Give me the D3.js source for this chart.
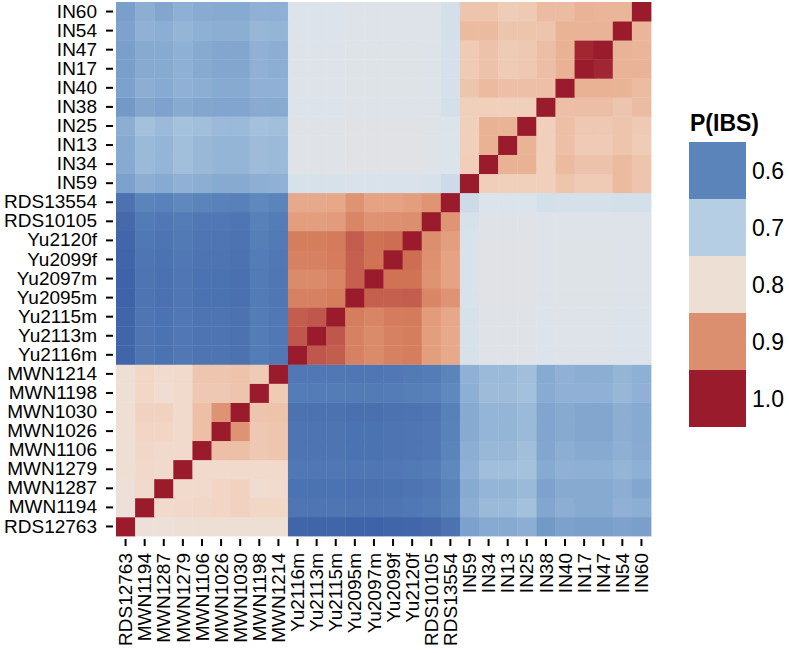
<!DOCTYPE html>
<html>
<head>
<meta charset="utf-8">
<script src="https://cdn.jsdelivr.net/npm/d3@7/dist/d3.min.js"></script>
<style>
  html, body { margin: 0; padding: 0; background: #ffffff; }
  svg { display: block; }
  text { font-family: "Liberation Sans", Arial, Helvetica, sans-serif; fill: #000; }
</style>
</head>
<body>
<svg id="chart" width="789" height="653"></svg>
<script>
// ---- Data ----
// Sample order: left-to-right on x axis, bottom-to-top on y axis
const samples = ["RDS12763","MWN1194","MWN1287","MWN1279","MWN1106","MWN1026","MWN1030","MWN1198","MWN1214",
  "Yu2116m","Yu2113m","Yu2115m","Yu2095m","Yu2097m","Yu2099f","Yu2120f","RDS10105","RDS13554",
  "IN59","IN34","IN13","IN25","IN38","IN40","IN17","IN47","IN54","IN60"];

// Lower-triangle values (row sample vs earlier samples), split into blocks
// MWN group (rows RDS12763..MWN1214), vs earlier members of the group
const mwnWithin = [
  [],
  [0.795],
  [0.795, 0.81],
  [0.80, 0.811, 0.81],
  [0.80, 0.813, 0.81, 0.81],
  [0.80, 0.816, 0.816, 0.81, 0.84],
  [0.80, 0.819, 0.819, 0.81, 0.84, 0.893],
  [0.80, 0.815, 0.803, 0.81, 0.83, 0.83, 0.834],
  [0.80, 0.814, 0.807, 0.81, 0.832, 0.832, 0.836, 0.827]
];
// Yu/RDS rows (Yu2116m..RDS13554) vs MWN group columns (RDS12763..MWN1214)
const yuVsMwn = [
  [0.56, 0.582, 0.578, 0.585, 0.58, 0.58, 0.577, 0.59, 0.585],
  [0.56, 0.582, 0.578, 0.585, 0.58, 0.58, 0.577, 0.59, 0.585],
  [0.56, 0.582, 0.578, 0.585, 0.58, 0.58, 0.577, 0.59, 0.585],
  [0.558, 0.58, 0.576, 0.583, 0.578, 0.578, 0.575, 0.588, 0.583],
  [0.558, 0.58, 0.576, 0.583, 0.578, 0.578, 0.575, 0.588, 0.583],
  [0.56, 0.582, 0.578, 0.585, 0.58, 0.58, 0.577, 0.59, 0.585],
  [0.562, 0.584, 0.58, 0.587, 0.582, 0.582, 0.579, 0.592, 0.587],
  [0.566, 0.588, 0.585, 0.59, 0.585, 0.585, 0.582, 0.595, 0.59],
  [0.577, 0.6, 0.597, 0.605, 0.6, 0.598, 0.595, 0.605, 0.6]
];
// Yu/RDS rows vs earlier Yu/RDS columns
const yuWithin = [
  [],
  [0.945],
  [0.94, 0.945],
  [0.91, 0.91, 0.912],
  [0.903, 0.903, 0.907, 0.938],
  [0.91, 0.91, 0.913, 0.938, 0.92],
  [0.912, 0.912, 0.914, 0.94, 0.92, 0.925],
  [0.88, 0.88, 0.882, 0.906, 0.895, 0.897, 0.9],
  [0.865, 0.865, 0.866, 0.895, 0.873, 0.873, 0.88, 0.892]
];
// IN rows (IN59..IN60) vs MWN group columns
const inVsMwn = [
  [0.638, 0.655, 0.65, 0.66, 0.655, 0.65, 0.65, 0.657, 0.66],
  [0.65, 0.672, 0.665, 0.678, 0.67, 0.665, 0.665, 0.675, 0.672],
  [0.65, 0.672, 0.665, 0.678, 0.67, 0.665, 0.665, 0.675, 0.672],
  [0.655, 0.68, 0.672, 0.683, 0.678, 0.672, 0.672, 0.68, 0.678],
  [0.627, 0.645, 0.64, 0.65, 0.645, 0.643, 0.643, 0.652, 0.65],
  [0.638, 0.655, 0.65, 0.66, 0.655, 0.65, 0.65, 0.66, 0.66],
  [0.635, 0.65, 0.65, 0.658, 0.65, 0.645, 0.645, 0.66, 0.655],
  [0.635, 0.65, 0.65, 0.658, 0.65, 0.645, 0.645, 0.66, 0.655],
  [0.64, 0.66, 0.655, 0.665, 0.658, 0.655, 0.655, 0.668, 0.665],
  [0.635, 0.655, 0.645, 0.658, 0.652, 0.65, 0.65, 0.66, 0.658]
];
// IN rows vs Yu/RDS columns
const inVsYu = [
  [0.745, 0.745, 0.745, 0.748, 0.748, 0.748, 0.748, 0.745, 0.732],
  [0.762, 0.762, 0.762, 0.765, 0.765, 0.765, 0.765, 0.762, 0.75],
  [0.762, 0.762, 0.762, 0.765, 0.765, 0.765, 0.765, 0.762, 0.75],
  [0.762, 0.762, 0.762, 0.765, 0.765, 0.765, 0.765, 0.762, 0.75],
  [0.752, 0.752, 0.752, 0.757, 0.757, 0.757, 0.757, 0.755, 0.74],
  [0.755, 0.755, 0.755, 0.76, 0.76, 0.76, 0.76, 0.757, 0.743],
  [0.755, 0.755, 0.755, 0.76, 0.76, 0.76, 0.76, 0.757, 0.743],
  [0.755, 0.755, 0.755, 0.76, 0.76, 0.76, 0.76, 0.757, 0.743],
  [0.752, 0.752, 0.752, 0.757, 0.757, 0.757, 0.757, 0.755, 0.74],
  [0.752, 0.752, 0.752, 0.757, 0.757, 0.757, 0.757, 0.755, 0.74]
];
// IN rows vs earlier IN columns
const inWithin = [
  [],
  [0.824],
  [0.823, 0.855],
  [0.823, 0.855, 0.854],
  [0.823, 0.823, 0.823, 0.823],
  [0.835, 0.846, 0.84, 0.84, 0.84],
  [0.828, 0.837, 0.828, 0.83, 0.841, 0.855],
  [0.828, 0.837, 0.828, 0.83, 0.841, 0.855, 0.99],
  [0.845, 0.845, 0.835, 0.835, 0.833, 0.854, 0.853, 0.853],
  [0.834, 0.835, 0.826, 0.829, 0.843, 0.843, 0.853, 0.851, 0.85]
];

// Legend
const legendTitle = "P(IBS)";
const legendValues = [0.6, 0.7, 0.8, 0.9, 1.0];

// Colour stops (value -> colour)
const colorStops = [0.55, 0.60, 0.65, 0.70, 0.75, 0.775, 0.80, 0.815, 0.83, 0.85, 0.87, 0.90, 0.92, 0.95, 1.00];
const colorRange = ["#3a5da4", "#5b84bb", "#87aad1", "#b5cee3", "#dbe3eb", "#e3e2e3", "#eedfd5", "#f2d6c6",
  "#eec8b2", "#eab69a", "#e6a586", "#dc8f6e", "#d07254", "#bd524a", "#9a1b2b"];

// ---- Build symmetric matrix ----
const n = samples.length;
const M = Array.from({length: n}, () => new Array(n).fill(null));
function setRow(i, j0, vals) { vals.forEach((v, k) => { M[i][j0 + k] = v; M[j0 + k][i] = v; }); }
mwnWithin.forEach((r, k) => setRow(k, 0, r));
yuVsMwn.forEach((r, k) => setRow(9 + k, 0, r));
yuWithin.forEach((r, k) => setRow(9 + k, 9, r));
inVsMwn.forEach((r, k) => setRow(18 + k, 0, r));
inVsYu.forEach((r, k) => setRow(18 + k, 9, r));
inWithin.forEach((r, k) => setRow(18 + k, 18, r));
for (let i = 0; i < n; i++) M[i][i] = 1.0;

const cells = [];
for (let i = 0; i < n; i++) for (let j = 0; j < n; j++) cells.push({row: samples[i], col: samples[j], v: M[i][j]});

// ---- Drawing ----
const svg = d3.select("#chart");
const color = d3.scaleLinear().domain(colorStops).range(colorRange).clamp(true);

const x = d3.scaleBand().domain(samples).range([116, 651]).padding(0);
const y = d3.scaleBand().domain(samples).range([536, 2]).padding(0);

svg.append("g")
  .selectAll("rect")
  .data(cells)
  .join("rect")
  .attr("x", d => x(d.col))
  .attr("y", d => y(d.row))
  .attr("width", x.bandwidth() + 0.4)
  .attr("height", y.bandwidth() + 0.4)
  .attr("fill", d => color(d.v));

// Y axis
const yAxis = svg.append("g")
  .attr("transform", "translate(113,0)")
  .call(d3.axisLeft(y).tickSize(7).tickPadding(9));
yAxis.select(".domain").remove();
yAxis.selectAll(".tick line").attr("stroke", "#000").attr("stroke-width", 2);
yAxis.selectAll(".tick text")
  .style("font-family", '"Liberation Sans", Arial, sans-serif')
  .style("font-size", "19px")
  .attr("fill", "#000");

// X axis
const xAxis = svg.append("g")
  .attr("transform", "translate(0,539)")
  .call(d3.axisBottom(x).tickSize(7).tickPadding(7));
xAxis.select(".domain").remove();
xAxis.selectAll(".tick line").attr("stroke", "#000").attr("stroke-width", 2);
xAxis.selectAll(".tick text")
  .style("font-family", '"Liberation Sans", Arial, sans-serif')
  .style("font-size", "19px")
  .attr("fill", "#000")
  .attr("text-anchor", "end")
  .attr("transform", "rotate(-90)")
  .attr("x", -14)
  .attr("y", 0)
  .attr("dy", "0.35em");

// Legend
const lg = svg.append("g");
lg.append("text")
  .attr("x", 690)
  .attr("y", 131)
  .style("font-size", "23px")
  .style("font-weight", "bold")
  .text(legendTitle);

const ly = d3.scaleBand().domain(legendValues).range([142, 427]);
lg.selectAll("rect")
  .data(legendValues)
  .join("rect")
  .attr("x", 689)
  .attr("y", d => ly(d))
  .attr("width", 57)
  .attr("height", ly.bandwidth())
  .attr("fill", d => color(d));
lg.selectAll("text.lab")
  .data(legendValues)
  .join("text")
  .attr("class", "lab")
  .attr("x", 752)
  .attr("y", d => ly(d) + ly.bandwidth() / 2)
  .attr("dy", "0.35em")
  .style("font-size", "23px")
  .text(d => d3.format(".1f")(d));
</script>
</body>
</html>
